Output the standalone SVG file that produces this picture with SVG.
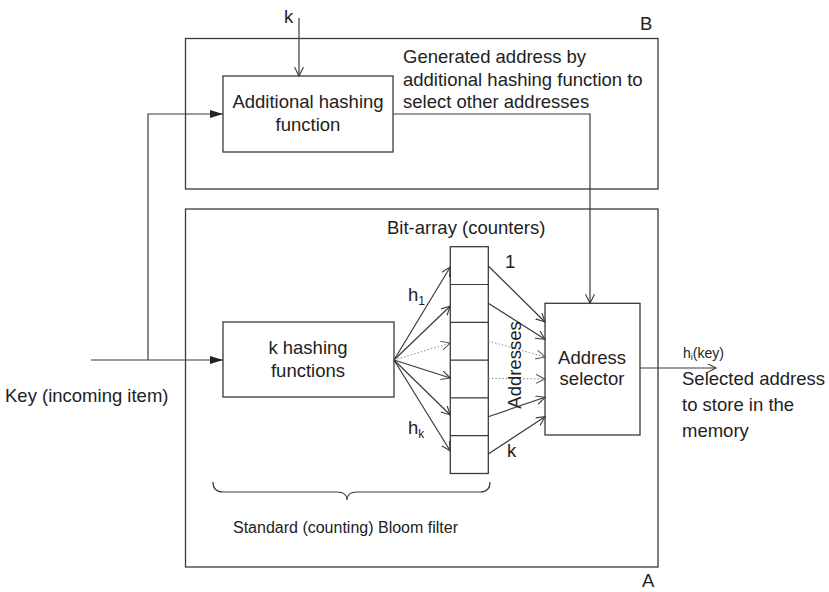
<svg xmlns="http://www.w3.org/2000/svg" width="829" height="592" viewBox="0 0 829 592">
  <style>
    .box { fill: none; stroke: #3a3a3a; stroke-width: 1.3; }
    .ln { fill: none; stroke: #3a3a3a; stroke-width: 1.2; }
    .open { marker-end: url(#vhead); }
    .solid { marker-end: url(#fhead); }
    .dot { fill: none; stroke: #8a8a8a; stroke-width: 1; stroke-dasharray: 1.5 2; marker-end: url(#vheadDot); }
    text { font-family: "Liberation Sans", Arial, sans-serif; fill: #222; font-size: 18.5px; }
    .mid { text-anchor: middle; }
    .small { font-size: 16px; }
    .sub { font-size: 12px; }
  </style>
  <defs>
    <marker id="vhead" markerUnits="userSpaceOnUse" markerWidth="12" markerHeight="12" refX="9" refY="4.5" orient="auto">
      <path d="M0,0 L9,4.5 L0,9" fill="none" stroke="#3a3a3a" stroke-width="1.1"/>
    </marker>
    <marker id="vheadDot" markerUnits="userSpaceOnUse" markerWidth="12" markerHeight="12" refX="9" refY="4.5" orient="auto">
      <path d="M0,0 L9,4.5 L0,9" fill="none" stroke="#555" stroke-width="1"/>
    </marker>
    <marker id="fhead" markerUnits="userSpaceOnUse" markerWidth="14" markerHeight="10" refX="13" refY="4" orient="auto">
      <path d="M0,0 L13,4 L0,8 Z" fill="#222"/>
    </marker>
  </defs>

  <!-- outer region B -->
  <g id="regionB">
    <rect class="box" x="185.5" y="38.5" width="472.5" height="150.5"/>
    <text x="640" y="30">B</text>
  </g>

  <!-- outer region A -->
  <g id="regionA">
    <rect class="box" x="185.5" y="209" width="472.5" height="358"/>
    <text x="642" y="587">A</text>
  </g>

  <g id="addHash">
    <rect class="box" x="223" y="76" width="170" height="76"/>
    <text class="mid" x="308" y="108">Additional hashing</text>
    <text class="mid" x="308" y="131">function</text>
  </g>

  <g id="kHash">
    <rect class="box" x="223" y="322" width="171" height="75"/>
    <text class="mid" x="308" y="354">k hashing</text>
    <text class="mid" x="308" y="377">functions</text>
  </g>

  <g id="bitArray">
    <rect class="box" x="450.3" y="246.7" width="38" height="226.8"/>
    <line class="ln" x1="450.3" y1="284.5" x2="488.3" y2="284.5"/>
    <line class="ln" x1="450.3" y1="322.3" x2="488.3" y2="322.3"/>
    <line class="ln" x1="450.3" y1="360.1" x2="488.3" y2="360.1"/>
    <line class="ln" x1="450.3" y1="397.9" x2="488.3" y2="397.9"/>
    <line class="ln" x1="450.3" y1="435.7" x2="488.3" y2="435.7"/>
    <text x="387" y="234">Bit-array (counters)</text>
  </g>

  <g id="selector">
    <rect class="box" x="545" y="303.3" width="95" height="131.7"/>
    <text class="mid" x="592" y="364">Address</text>
    <text class="mid" x="592" y="385">selector</text>
  </g>

  <g id="connectors">
    <!-- k into the additional hashing function -->
    <line class="ln open" x1="299" y1="18" x2="299" y2="76"/>
    <!-- key input, split to both hashing stages -->
    <line class="ln solid" x1="91" y1="360" x2="223" y2="360"/>
    <polyline class="ln solid" points="148,360 148,114 223,114"/>
    <!-- generated address down to the selector -->
    <polyline class="ln open" points="393,114 590,114 590,303.3"/>
    <!-- hash fan-out into the bit array -->
    <line class="ln open" x1="394" y1="360" x2="450.3" y2="267"/>
    <line class="ln open" x1="394" y1="360" x2="450.3" y2="306"/>
    <line class="dot" x1="394" y1="360" x2="450.3" y2="343"/>
    <line class="ln open" x1="394" y1="360" x2="450.3" y2="378"/>
    <line class="ln open" x1="394" y1="360" x2="450.3" y2="415"/>
    <line class="ln open" x1="394" y1="360" x2="450.3" y2="451"/>
    <!-- addresses into the selector -->
    <line class="ln open" x1="488.3" y1="266" x2="545" y2="322"/>
    <line class="ln open" x1="488.3" y1="303.3" x2="545" y2="339.3"/>
    <line class="dot" x1="488.3" y1="341" x2="545" y2="357"/>
    <line class="dot" x1="488.3" y1="378.3" x2="545" y2="379"/>
    <line class="ln open" x1="488.3" y1="416.7" x2="545" y2="397.3"/>
    <line class="ln open" x1="488.3" y1="454" x2="545" y2="416.7"/>
    <!-- selected output -->
    <line class="ln open" x1="640" y1="368" x2="716" y2="368"/>
    <!-- brace under the standard filter -->
    <path class="ln" d="M213,482 Q213,492 223,492 L337,492 Q347,492 347,500 Q347,492 357,492 L480,492 Q490,492 490,482"/>
  </g>

  <g id="labels">
    <text x="284" y="23">k</text>
    <text x="403" y="63">Generated address by</text>
    <text x="403" y="85.5">additional hashing function to</text>
    <text x="403" y="107.5">select other addresses</text>
    <text x="5" y="402">Key (incoming item)</text>
    <text x="408" y="301">h<tspan class="sub" dy="4">1</tspan></text>
    <text x="408" y="434">h<tspan class="sub" dy="4">k</tspan></text>
    <text x="505" y="268">1</text>
    <text x="507" y="457">k</text>
    <text class="mid" transform="translate(521,365) rotate(-90)">Addresses</text>
    <text x="683" y="358" style="font-size:14px">h<tspan style="font-size:9px" dy="2">i</tspan><tspan dy="-2">(key)</tspan></text>
    <text x="682" y="385">Selected address</text>
    <text x="682" y="411">to store in the</text>
    <text x="682" y="437">memory</text>
    <text class="small" x="233" y="533">Standard (counting) Bloom filter</text>
  </g>
</svg>
